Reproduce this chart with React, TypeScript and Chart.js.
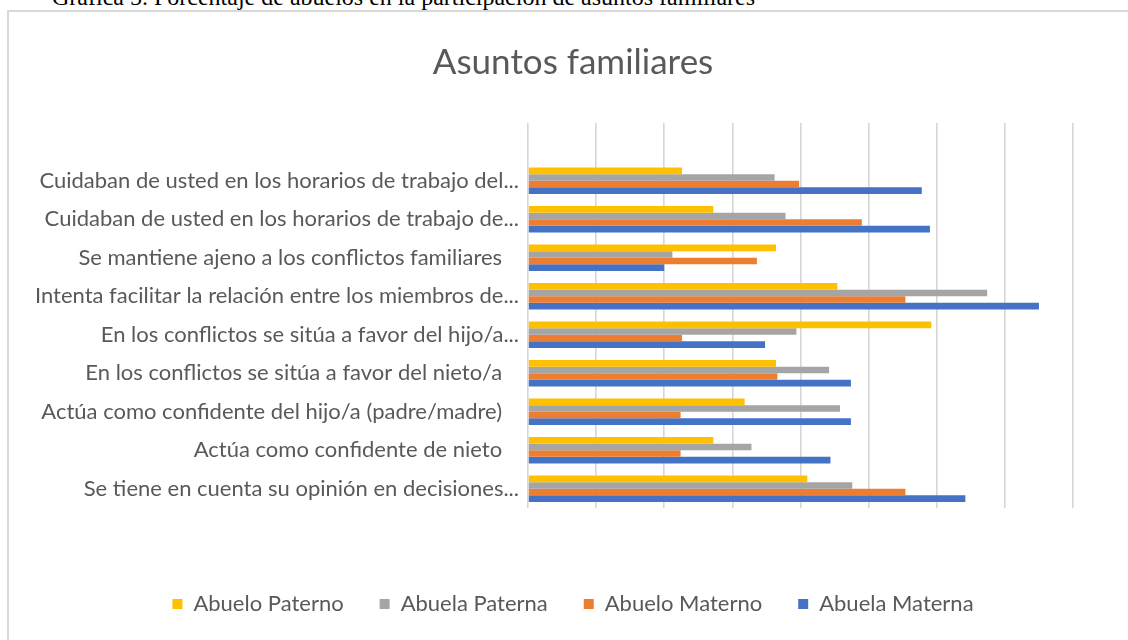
import React, { useEffect, useRef } from "react";
import { Chart, registerables } from "chart.js";

Chart.register(...registerables);

const categories = [
  "Cuidaban de usted en los horarios de trabajo del...",
  "Cuidaban de usted en los horarios de trabajo de...",
  "Se mantiene ajeno a los conflictos familiares   ",
  "Intenta facilitar la relación entre los miembros de...",
  "En los conflictos se sitúa a favor del hijo/a...",
  "En los conflictos se sitúa a favor del nieto/a   ",
  "Actúa como confidente del hijo/a (padre/madre)   ",
  "Actúa como confidente de nieto   ",
  "Se tiene en cuenta su opinión en decisiones...",
];

const seriesNames = ["Abuelo Paterno", "Abuela Paterna", "Abuelo Materno", "Abuela Materna"];
const seriesColors = ["#FFC000", "#A5A5A5", "#ED7D31", "#4472C4"];

const abueloPaterno = [11.3, 13.6, 18.2, 22.7, 29.6, 18.2, 15.9, 13.6, 20.5];
const abuelaPaterna = [18.1, 18.9, 10.6, 33.7, 19.7, 22.1, 22.9, 16.4, 23.8];
const abueloMaterno = [19.9, 24.5, 16.8, 27.7, 11.3, 18.3, 11.2, 11.2, 27.7];
const abuelaMaterna = [28.9, 29.5, 10.0, 37.5, 17.4, 23.7, 23.7, 22.2, 32.1];

const xMin = 0;
const xMax = 40;
const xStep = 5;

const caption = "Gráfica 5. Porcentaje de abuelos en la participación de asuntos familiares";
const title = "Asuntos familiares";

const FONT = "Lato, 'Open Sans', sans-serif";

export default function App() {
  const ref = useRef<HTMLCanvasElement>(null);

  useEffect(() => {
    const series = [abueloPaterno, abuelaPaterna, abueloMaterno, abuelaMaterna];
    const chart = new Chart(ref.current as HTMLCanvasElement, {
      type: "bar",
      data: {
        labels: ["", ...categories],
        datasets: series.map((d, i) => ({
          label: seriesNames[i],
          data: [null, ...d],
          backgroundColor: seriesColors[i],
          borderWidth: 0,
          categoryPercentage: 0.683,
          barPercentage: 1,
        })),
      },
      options: {
        animation: false,
        responsive: false,
        indexAxis: "y",
        layout: { padding: { left: 0, right: 0, top: 0, bottom: 27 } },
        plugins: {
          title: {
            display: true,
            text: title,
            color: "#595959",
            font: { family: FONT, size: 35, weight: "normal" },
            padding: { top: 30, bottom: 39 },
          },
          legend: {
            position: "bottom",
            labels: {
              boxWidth: 10,
              boxHeight: 10,
              padding: 36,
              color: "#595959",
              font: { family: FONT, size: 22 },
            },
          },
          tooltip: { enabled: false },
        },
        scales: {
          x: {
            min: xMin,
            max: xMax,
            ticks: { stepSize: xStep, display: false },
            grid: { color: "#d6d6d6", lineWidth: 1.6, drawTicks: false },
            border: { display: false },
            afterFit: (s: any) => {
              s.height = 49;
            },
          },
          y: {
            grid: { display: false },
            border: { display: false },
            ticks: {
              color: "#595959",
              font: { family: FONT, size: 22 },
              padding: 1,
              autoSkip: false,
            },
            afterFit: (s: any) => {
              s.width = 519;
            },
          },
          yRight: {
            type: "linear",
            axis: "y",
            position: "right",
            display: true,
            grid: { display: false },
            border: { display: false },
            ticks: { display: false },
            afterFit: (s: any) => {
              s.width = 64;
            },
          },
        },
      },
    } as any);
    return () => chart.destroy();
  }, []);

  return (
    <div style={{ position: "fixed", left: 0, top: 0, width: 1128, height: 640, overflow: "hidden", background: "#fff" }}>
      <div
        style={{
          position: "absolute",
          left: 52,
          top: -14,
          fontFamily: "'Liberation Serif', 'Times New Roman', serif",
          fontSize: 24,
          lineHeight: "23px",
          color: "#000",
          whiteSpace: "nowrap",
        }}
      >
        {caption}
      </div>
      <div
        style={{
          position: "absolute",
          left: 7,
          top: 10,
          width: 1200,
          height: 700,
          border: "2px solid #d9d9d9",
          boxSizing: "border-box",
        }}
      />
      <canvas ref={ref} width={1128} height={640} style={{ position: "absolute", left: 9, top: 12, width: 1128, height: 640 }} />
    </div>
  );
}
